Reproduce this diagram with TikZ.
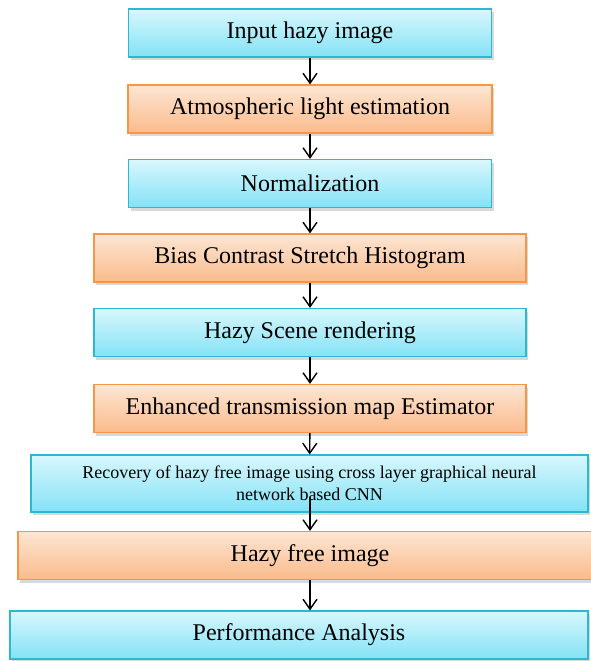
\documentclass[tikz,border=0pt]{standalone}
\usepackage{fontspec}
\setmainfont{Liberation Serif}
\usetikzlibrary{arrows.meta,shadows}

\definecolor{cyantop}{HTML}{D8F7FD}
\definecolor{cyanbot}{HTML}{84E2F6}
\definecolor{cyanline}{HTML}{2DB8D2}
\definecolor{orangetop}{HTML}{FDE6D3}
\definecolor{orangebot}{HTML}{FABB8C}
\definecolor{orangeline}{HTML}{F79646}

\begin{document}
\begin{tikzpicture}[x=1pt, y=-1pt,
  box/.style={draw, line width=1.2pt, minimum height=48pt, inner sep=0pt,
    font=\fontsize{24}{28}\selectfont,
    drop shadow={shadow xshift=2pt, shadow yshift=-3pt, opacity=0.3}},
  cyanbox/.style={box, draw=cyanline, top color=cyantop, bottom color=cyanbot},
  orangebox/.style={box, draw=orangeline, top color=orangetop, bottom color=orangebot},
  arrow/.style={line width=1.4pt, -{Straight Barb[length=10pt, width=14pt]}}]

\useasboundingbox (0,0) rectangle (591,661);

% top three boxes
\node[cyanbox, minimum width=363pt] (in) at (310,33) {Input hazy image};
\node[orangebox, minimum width=364pt] (atm) at (310,109) {Atmospheric light estimation};
\node[cyanbox, minimum width=363pt] (norm) at (310,183.5) {Normalization};

% wider boxes
\node[orangebox, minimum width=432pt] (bias) at (310,258) {Bias Contrast Stretch Histogram};
\node[cyanbox, minimum width=432pt] (scene) at (310,332.5) {Hazy Scene rendering};
\node[orangebox, minimum width=432pt] (trans) at (310,408.5) {Enhanced transmission map Estimator};

% recovery box
\node[cyanbox, minimum width=557pt, minimum height=57pt, align=center,
  font=\fontsize{18}{22}\selectfont] (rec) at (309.5,483.5)
  {Recovery of hazy free image using cross layer graphical neural\\network based CNN};

% last two boxes
\node[orangebox, minimum width=584pt] (free) at (310,555.5) {Hazy free image};
\node[cyanbox, minimum width=578pt] (perf) at (299,635) {Performance Analysis};

% arrows
\foreach \a/\b in {in/atm, atm/norm, norm/bias, bias/scene, scene/trans, trans/rec}
  \draw[arrow] (\a) -- (\b);

\draw[arrow] ([yshift=16pt]rec.south -| free.south) -- (free.north);
\draw[arrow] (free.south) -- (free.south |- perf.north);

\end{tikzpicture}
\end{document}
